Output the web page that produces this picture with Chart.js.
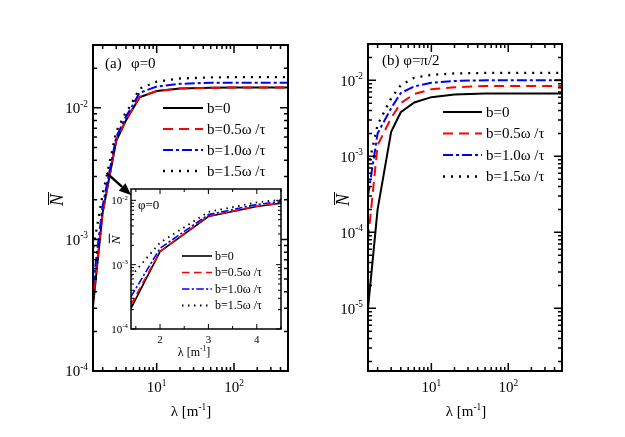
<!DOCTYPE html>
<html>
<head>
<meta charset="utf-8">
<script src="https://cdn.jsdelivr.net/npm/chart.js@4.4.0/dist/chart.umd.min.js"></script>
<style>
  body { margin: 0; background: #fff; }
  #wrap { position: relative; width: 625px; height: 437px; }
  canvas { position: absolute; left: 0; top: 0; }
</style>
</head>
<body>
<div id="wrap">
  <canvas id="panelA" width="625" height="437"></canvas>
  <canvas id="panelB" width="625" height="437"></canvas>
  <canvas id="inset" width="625" height="437"></canvas>
</div>
<script>
// panel (a), phi = 0 (inset uses the same data)
const lambdaA = [1.4, 2, 3, 4, 4.5, 6, 10, 20, 50, 100, 200, 500];
const nA_b0  = [2.1e-4, 1.6e-3, 5.6e-3, 8.0e-3, 9.0e-3, 1.20e-2, 1.34e-2, 1.40e-2, 1.42e-2, 1.425e-2, 1.425e-2, 1.425e-2];
const nA_b05 = [2.4e-4, 1.6e-3, 5.7e-3, 8.1e-3, 9.1e-3, 1.21e-2, 1.34e-2, 1.40e-2, 1.42e-2, 1.425e-2, 1.425e-2, 1.425e-2];
const nA_b10 = [3.2e-4, 1.8e-3, 6.0e-3, 8.6e-3, 9.6e-3, 1.30e-2, 1.45e-2, 1.52e-2, 1.55e-2, 1.55e-2, 1.55e-2, 1.55e-2];
const nA_b15 = [6.6e-4, 2.2e-3, 6.6e-3, 9.3e-3, 1.02e-2, 1.40e-2, 1.58e-2, 1.67e-2, 1.70e-2, 1.71e-2, 1.71e-2, 1.71e-2];

// panel (b), phi = pi/2
const lambdaB = [1.5, 2, 3, 4, 6, 10, 20, 50, 100, 200, 500];
const nB_b0  = [1.0e-5, 2.0e-4, 2.1e-3, 3.8e-3, 5.1e-3, 6.0e-3, 6.5e-3, 6.7e-3, 6.7e-3, 6.7e-3, 6.7e-3];
const nB_b05 = [8.0e-5, 1.4e-3, 3.2e-3, 5.0e-3, 6.6e-3, 7.6e-3, 8.1e-3, 8.4e-3, 8.4e-3, 8.4e-3, 8.4e-3];
const nB_b10 = [3.0e-4, 2.0e-3, 4.3e-3, 6.8e-3, 8.3e-3, 9.3e-3, 9.8e-3, 1.0e-2, 1.0e-2, 1.0e-2, 1.0e-2];
const nB_b15 = [7.0e-4, 2.6e-3, 5.8e-3, 8.6e-3, 1.08e-2, 1.18e-2, 1.23e-2, 1.25e-2, 1.25e-2, 1.25e-2, 1.25e-2];

const seriesLabels = ['b=0', 'b=0.5\u03c9 /\u03c4', 'b=1.0\u03c9 /\u03c4', 'b=1.5\u03c9 /\u03c4'];
const seriesColors = ['#000000', '#ff0000', '#0000ff', '#000000'];
const seriesDash = [[], [10, 6], [10, 3, 3, 3], [2, 6]];

const serif = '"Liberation Serif", "Times New Roman", serif';
function f(size, style) { return (style ? style + ' ' : '') + size + 'px ' + serif; }

function makeDatasets(xs, list, width, dashScale) {
  return list.map((ys, i) => ({
    label: seriesLabels[i],
    data: xs.map((x, j) => ({ x: x, y: ys[j] })),
    borderColor: seriesColors[i],
    borderDash: seriesDash[i].map(d => d * dashScale),
    borderWidth: i === 3 ? width * 1.15 : width,
    borderCapStyle: 'butt',
    pointRadius: 0,
    fill: false,
    tension: 0,
    order: 4 - i
  }));
}

function logTicks(min, max) {
  const out = [];
  for (let k = Math.floor(Math.log10(min)); k <= Math.ceil(Math.log10(max)); k++) {
    for (let m = 1; m <= 9; m++) {
      const v = m * Math.pow(10, k);
      if (v >= min * 0.999 && v <= max * 1.001) out.push({ v: v, major: m === 1, exp: k });
    }
  }
  return out;
}
function linTicks(min, max, step) {
  const out = [];
  for (let v = Math.ceil(min / step) * step; v <= max + 1e-9; v += step) {
    out.push({ v: v, major: Math.abs(v - Math.round(v)) < 1e-9 });
  }
  return out;
}

function drawRich(ctx, parts, x, y, align) {
  let w = 0;
  parts.forEach(p => { ctx.font = p.font; p.w = ctx.measureText(p.t).width; w += p.w; });
  let cx = align === 'right' ? x - w : align === 'center' ? x - w / 2 : x;
  ctx.textAlign = 'left';
  ctx.textBaseline = 'alphabetic';
  parts.forEach(p => { ctx.font = p.font; ctx.fillText(p.t, cx, y - (p.rise || 0)); cx += p.w; });
}
function powParts(exp, size) {
  return [{ t: '10', font: f(size) }, { t: String(exp), font: f(size * 0.62), rise: size * 0.42 }];
}

let chartA = null;

const framePlugin = {
  id: 'frame',
  beforeDatasetsDraw(chart, args, o) {
    if (!o.fill) return;
    const a = chart.chartArea, ctx = chart.ctx;
    ctx.save();
    ctx.fillStyle = o.fill;
    ctx.fillRect(a.left, a.top, a.right - a.left, a.bottom - a.top);
    ctx.restore();
  },
  afterDraw(chart, args, o) {
    const ctx = chart.ctx, a = chart.chartArea, xs = chart.scales.x, ys = chart.scales.y;
    ctx.save();
    ctx.strokeStyle = '#000';
    ctx.fillStyle = '#000';
    ctx.setLineDash([]);

    // inward ticks on all four sides
    const xt = xs.type === 'logarithmic' ? logTicks(xs.min, xs.max) : linTicks(xs.min, xs.max, o.xStep);
    const yt = logTicks(ys.min, ys.max);
    ctx.lineWidth = o.tickWidth;
    ctx.beginPath();
    xt.forEach(t => {
      const p = xs.getPixelForValue(t.v), l = t.major ? o.major : o.minor;
      ctx.moveTo(p, a.bottom); ctx.lineTo(p, a.bottom - l);
      ctx.moveTo(p, a.top); ctx.lineTo(p, a.top + l);
    });
    yt.forEach(t => {
      const p = ys.getPixelForValue(t.v), l = t.major ? o.major : o.minor;
      ctx.moveTo(a.left, p); ctx.lineTo(a.left + l, p);
      ctx.moveTo(a.right, p); ctx.lineTo(a.right - l, p);
    });
    ctx.stroke();

    ctx.lineWidth = o.border;
    ctx.strokeRect(a.left, a.top, a.right - a.left, a.bottom - a.top);

    // tick labels
    xt.filter(t => t.major).forEach(t => {
      const p = xs.getPixelForValue(t.v);
      if (xs.type === 'logarithmic') drawRich(ctx, powParts(t.exp, o.tickFont), p, a.bottom + o.xLabelDy, 'center');
      else drawRich(ctx, [{ t: String(t.v), font: f(o.tickFont) }], p, a.bottom + o.xLabelDy, 'center');
    });
    yt.filter(t => t.major).forEach(t => {
      drawRich(ctx, powParts(t.exp, o.tickFont), a.left - o.yLabelDx, ys.getPixelForValue(t.v) + o.tickFont * 0.35, 'right');
    });

    // axis titles
    const xs2 = o.xTitle.size;
    drawRich(ctx, [
      { t: '\u03bb [m', font: f(xs2) },
      { t: '-1', font: f(xs2 * 0.62), rise: xs2 * 0.42 },
      { t: ']', font: f(xs2) }
    ], o.xTitle.x, o.xTitle.y, 'center');

    const yt2 = o.yTitle;
    ctx.save();
    ctx.translate(yt2.x, yt2.y);
    ctx.rotate(-Math.PI / 2);
    ctx.font = f(yt2.size, 'italic');
    ctx.textAlign = 'center';
    ctx.textBaseline = 'alphabetic';
    const nw = ctx.measureText('N').width;
    ctx.fillText('N', 0, yt2.size * 0.33);
    ctx.lineWidth = 1;
    ctx.beginPath();
    const by = -yt2.size * 0.36 - 2;
    ctx.moveTo(-nw / 2 + 1, by); ctx.lineTo(nw / 2 + 2, by);
    ctx.stroke();
    ctx.restore();

    // free texts
    (o.texts || []).forEach(t => drawRich(ctx, [{ t: t.t, font: f(t.size) }], t.x, t.y, 'left'));

    // legend
    const L = o.legend;
    chart.data.datasets.forEach((ds, i) => {
      const y = L.y + i * L.dy;
      ctx.save();
      ctx.strokeStyle = ds.borderColor;
      ctx.lineWidth = ds.borderWidth;
      ctx.lineCap = 'butt';
      ctx.setLineDash(ds.borderDash);
      ctx.beginPath();
      ctx.moveTo(L.x0, y); ctx.lineTo(L.x1, y);
      ctx.stroke();
      ctx.restore();
      drawRich(ctx, [{ t: ds.label, font: f(L.size) }], L.tx, y + L.size * 0.33, 'left');
    });

    // arrow from the main panel curve to the inset
    if (o.arrow && chartA) {
      const sx = chartA.scales.x.getPixelForValue(o.arrow.x);
      const sy = chartA.scales.y.getPixelForValue(o.arrow.y);
      const ex = a.left, ey = a.top + 6;
      const ang = Math.atan2(ey - sy, ex - sx);
      const hl = 12, hw = 5;
      const bx = ex - hl * Math.cos(ang), byy = ey - hl * Math.sin(ang);
      ctx.lineWidth = 2.5;
      ctx.beginPath();
      ctx.moveTo(sx, sy); ctx.lineTo(bx, byy);
      ctx.stroke();
      ctx.beginPath();
      ctx.moveTo(ex, ey);
      ctx.lineTo(bx + hw * Math.sin(ang), byy - hw * Math.cos(ang));
      ctx.lineTo(bx - hw * Math.sin(ang), byy + hw * Math.cos(ang));
      ctx.closePath();
      ctx.fill();
    }
    ctx.restore();
  }
};

function makeChart(id, datasets, xScale, yScale, padding, frame) {
  return new Chart(document.getElementById(id), {
    type: 'line',
    data: { datasets: datasets },
    options: {
      responsive: false,
      animation: false,
      events: [],
      layout: { padding: padding },
      plugins: { legend: { display: false }, tooltip: { enabled: false }, frame: frame },
      scales: {
        x: Object.assign({ display: false }, xScale),
        y: Object.assign({ display: false }, yScale)
      }
    },
    plugins: [framePlugin]
  });
}

chartA = makeChart('panelA',
  makeDatasets(lambdaA, [nA_b0, nA_b05, nA_b10, nA_b15], 2, 1),
  { type: 'logarithmic', min: 1.5, max: 500 },
  { type: 'logarithmic', min: 1e-4, max: 0.03 },
  { left: 93, top: 45, right: 337, bottom: 66 },
  {
    border: 2, tickWidth: 1.5, major: 8, minor: 4, tickFont: 15, xLabelDy: 21, yLabelDx: 5,
    xTitle: { x: 191, y: 416, size: 15 },
    yTitle: { x: 57, y: 200, size: 18 },
    texts: [{ t: '(a)', x: 105, y: 68, size: 15 }, { t: '\u03c6=0', x: 131, y: 68, size: 15 }],
    legend: { x0: 163, x1: 203, tx: 207, y: 108, dy: 21, size: 15 }
  });

makeChart('panelB',
  makeDatasets(lambdaB, [nB_b0, nB_b05, nB_b10, nB_b15], 2, 1),
  { type: 'logarithmic', min: 1.5, max: 500 },
  { type: 'logarithmic', min: 1.5e-6, max: 0.03 },
  { left: 368, top: 44, right: 63, bottom: 66 },
  {
    border: 2, tickWidth: 1.5, major: 8, minor: 4, tickFont: 15, xLabelDy: 21, yLabelDx: 5,
    xTitle: { x: 466, y: 416, size: 15 },
    yTitle: { x: 343, y: 200, size: 18 },
    texts: [{ t: '(b) \u03c6=\u03c0/2', x: 382, y: 65, size: 15 }],
    legend: { x0: 443, x1: 482, tx: 486, y: 112, dy: 21.5, size: 15 }
  });

makeChart('inset',
  makeDatasets(lambdaA, [nA_b0, nA_b05, nA_b10, nA_b15], 1.6, 0.75),
  { type: 'linear', min: 1.4, max: 4.5 },
  { type: 'logarithmic', min: 1e-4, max: 0.015 },
  { left: 131, top: 189, right: 344, bottom: 108 },
  {
    fill: '#ffffff', xStep: 0.5,
    border: 1.5, tickWidth: 1, major: 5, minor: 3, tickFont: 11, xLabelDy: 14, yLabelDx: 3,
    xTitle: { x: 194, y: 356, size: 12 },
    yTitle: { x: 116, y: 240, size: 13 },
    texts: [{ t: '\u03c6=0', x: 138, y: 209, size: 13 }],
    legend: { x0: 182, x1: 212, tx: 215, y: 256, dy: 16.5, size: 12 },
    arrow: { x: 2.25, y: 3.2e-3 }
  });
</script>
</body>
</html>
